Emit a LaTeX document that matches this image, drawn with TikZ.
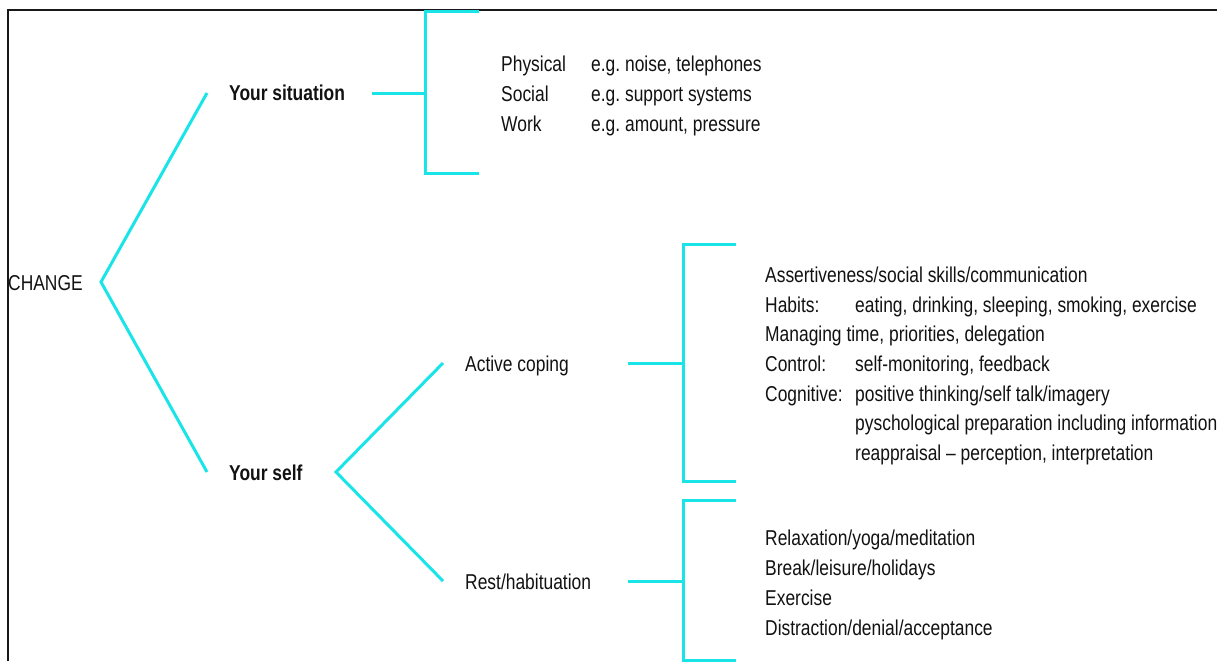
\documentclass[tikz,border=0pt]{standalone}
\usepackage{fontspec}
\setmainfont{Liberation Sans}[FakeStretch=0.81]
\definecolor{branch}{RGB}{25,228,232}
\definecolor{ink}{RGB}{18,18,18}
\frenchspacing

\begin{document}
\begin{tikzpicture}[x=1pt, y=-1pt,
  every node/.style={inner sep=0pt, anchor=base west, text=ink,
    font=\fontsize{21.5}{26}\selectfont},
  head/.style={font=\fontsize{21.5}{26}\selectfont\bfseries},
  branch/.style={draw=branch, line width=3pt},
  frame/.style={draw=black!90, line width=2pt}]
  \useasboundingbox (0,0) rectangle (1217,661);
  \fill[white] (0,0) rectangle (1217,661);

  % Cadre
  \draw[frame] (8,661) -- (8,10) -- (1217,10);

  % Racine
  \node (change) at (8,290) {CHANGE};
  \coordinate (fk1) at (101,282);
  \coordinate (sitL) at (207,93);
  \coordinate (selfL) at (207,472);
  \draw[branch] (sitL) -- (fk1) -- (selfL);

  % Your situation
  \node[head] (sit) at (229,100) {Your situation};
  \coordinate (sitR) at (372,93);
  \coordinate (sitB) at (425,93);
  \draw[branch] (sitR) -- (sitB);
  \draw[branch] (479,12) -- (425,12) -- (425,173) -- (479,173);
  \foreach \n/\y/\a/\b in {
    1/71/Physical/{e.g. noise, telephones},
    2/101/Social/{e.g. support systems},
    3/131/Work/{e.g. amount, pressure}} {
    \node (st\n) at (501,\y) {\a};
    \node (sv\n) at (591,\y) {\b};
  }

  % Your self
  \node[head] (self) at (229,480) {Your self};
  \coordinate (fk2) at (336,472);
  \coordinate (actL) at (443,363);
  \coordinate (restL) at (443,581);
  \draw[branch] (actL) -- (fk2) -- (restL);

  % Active coping
  \node (act) at (465,371) {Active coping};
  \coordinate (actR) at (628,363);
  \coordinate (actB) at (683,363);
  \draw[branch] (actR) -- (actB);
  \draw[branch] (736,244) -- (683,244) -- (683,481) -- (736,481);
  \node (ac1) at (765,282) {Assertiveness/social skills/communication};
  \node (ac2) at (765,312) {Habits:};
  \node (ac2b) at (855,312) {eating, drinking, sleeping, smoking, exercise};
  \node (ac3) at (765,341) {Managing time, priorities, delegation};
  \node (ac4) at (765,371) {Control:};
  \node (ac4b) at (855,371) {self-monitoring, feedback};
  \node (ac5) at (765,401) {Cognitive:};
  \node (ac5b) at (855,401) {positive thinking/self talk/imagery};
  \node (ac6b) at (855,430) {pyschological preparation including information};
  \node (ac7b) at (855,460) {reappraisal -- perception, interpretation};

  % Rest/habituation
  \node (rest) at (465,589) {Rest/habituation};
  \coordinate (restR) at (628,581);
  \coordinate (restB) at (683,581);
  \draw[branch] (restR) -- (restB);
  \draw[branch] (736,500) -- (683,500) -- (683,660) -- (736,660);
  \foreach \n/\y/\t in {
    1/545/{Relaxation/yoga/meditation},
    2/575/{Break/leisure/holidays},
    3/605/{Exercise},
    4/635/{Distraction/denial/acceptance}} {
    \node (rs\n) at (765,\y) {\t};
  }
\end{tikzpicture}
\end{document}
